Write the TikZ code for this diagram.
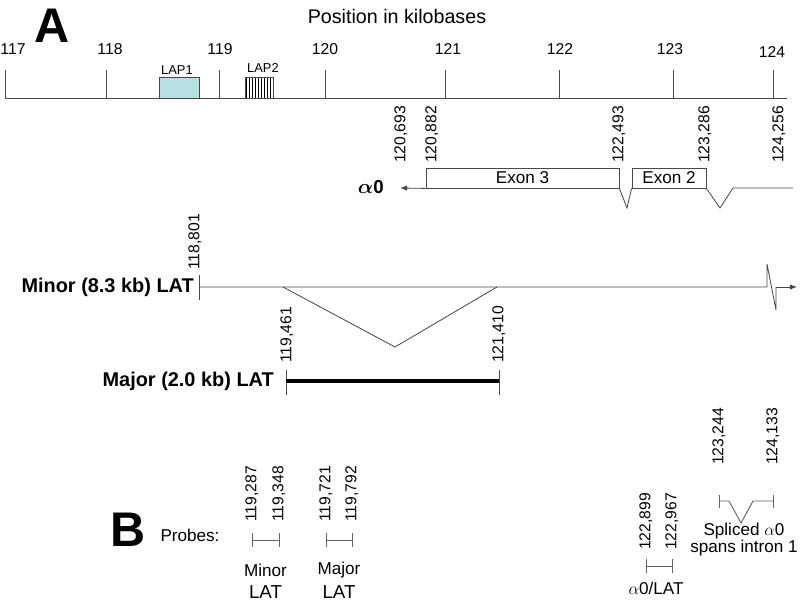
\documentclass[tikz,border=0pt]{standalone}
\usepackage{fontspec}
\setmainfont{Liberation Sans}
\usetikzlibrary{arrows.meta}

\definecolor{lapcyan}{RGB}{182,224,226}
\definecolor{linegray}{RGB}{72,72,72}

\newcommand{\numfont}{\fontsize{13.4}{14}\selectfont}
\newcommand{\txtfont}{\fontsize{14.6}{15}\selectfont}
\newcommand{\namefont}{\fontsize{17}{18}\selectfont\bfseries}
\newcommand{\panelfont}{\fontsize{41.5}{42}\selectfont\bfseries}

\begin{document}
\begin{tikzpicture}[
            >={Latex[length=6pt,width=4.5pt]},
            x=0.03cm, y=-0.03cm,
            genome/.style={draw=linegray, line width=0.7pt},
            probe/.style={draw=linegray!85, line width=0.8pt},
            kblabel/.style={font=\numfont, inner sep=0pt},
            poslabel/.style={font=\numfont, rotate=90, anchor=west, inner sep=0pt},
            exonbox/.style={genome, font=\txtfont, inner sep=0pt, minimum height=20*0.03cm},
            genename/.style={font=\namefont, inner sep=0pt, anchor=east},
            panel/.style={font=\panelfont, inner sep=0pt}
        ]
        \useasboundingbox (0,0) rectangle (800,613);

        \node[panel] (panelA) at (52,26) {A};
        \node[font=\fontsize{16.8}{17}\selectfont, inner sep=0pt] (title) at (397,16) {Position in kilobases};

        %Ruler

        \draw[genome] (5,98) -- (787,98);
        \foreach \tx/\lx/\ly/\kb in {5/13/49/117, 106/110/49/118, 219/220/49/119, 325/325/49/120,
                                     445/448/49/121, 559/560/49/122, 673/670/49/123, 773/772/52/124} {
            \draw[genome] (\tx,70) -- (\tx,98);
            \node[kblabel] (kb\kb) at (\lx,\ly) {\kb};
        }

        %% LAP1 and LAP2

        \draw[genome, fill=lapcyan] (159,77) rectangle (199,98);
        \node[font=\fontsize{11}{12}\selectfont, inner sep=0pt] (lap1) at (177,70) {LAP1};
        \foreach \hx in {246.5,249.5,...,272} {
            \draw[line width=1.1pt] (\hx,77) -- (\hx,98);
        }
        \draw[genome] (245,77) rectangle (273,98);
        \node[font=\fontsize{11}{12}\selectfont, inner sep=0pt] (lap2) at (263,68) {LAP2};

        %% alpha0 transcript

        \node[exonbox, minimum width=193*0.03cm] (exon3) at (522.5,178) {Exon 3};
        \node[exonbox, minimum width=74*0.03cm] (exon2) at (669,178) {Exon 2};
        \coordinate (a0tip) at (400,188);
        \coordinate (a0end) at (793,188);
        \draw[genome,->] (exon3.south west) -- (a0tip);
        \draw[genome] (exon3.south east) -- (627,208) -- (exon2.south west);
        \draw[genome] (exon2.south east) -- (720,208) -- (733,188) -- (a0end);
        \node[font=\fontsize{16}{17}\selectfont\bfseries\boldmath, inner sep=0pt, anchor=east] (alpha0) at (384,187) {$\alpha$0};

        \foreach \lx/\pos in {401/{120,693}, 432/{120,882}, 619/{122,493}, 705/{123,286}, 779/{124,256}} {
            \node[poslabel] (pos\lx) at (\lx,163) {\pos};
        }

        %% Minor (8.3 kb) LAT

        \coordinate (minorstart) at (199,287);
        \coordinate (minorbreak) at (767,287);
        \draw[genome] (199,275) -- (199,300);
        \draw[genome] (minorstart) -- (minorbreak) -- (767,264) -- (776,310) -- (776,287);
        \draw[genome,->] (776,287) -- (797,287);
        \draw[genome] (283,287) -- (395,347) -- (497,287);
        \node[genename] (minorlat) at (194,287) {Minor (8.3 kb) LAT};
        \node[poslabel] (pos199) at (195,270) {118,801};

        %% Major (2.0 kb) LAT

        \coordinate (majorstart) at (286,381);
        \coordinate (majorend) at (499,381);
        \draw[genome] (286,370) -- (286,395);
        \draw[genome] (499,370) -- (499,395);
        \draw[line width=3.8pt] (majorstart) -- (majorend);
        \node[genename] (majorlat) at (274,381) {Major (2.0 kb) LAT};
        \node[poslabel] (pos287) at (287,363) {119,461};
        \node[poslabel] (pos499) at (499,363) {121,410};

        %% Probes

        \node[panel] (panelB) at (128,530) {B};
        \node[font=\txtfont, inner sep=0pt] (probes) at (190,535) {Probes:};

        \foreach \pa/\pb/\name/\la/\lb in {252/279/Minor/{119,287}/{119,348}, 326/352/Major/{119,721}/{119,792}} {
            \draw[probe] (\pa,533) -- (\pa,547);
            \draw[probe] (\pb,533) -- (\pb,547);
            \draw[probe] (\pa,540) -- (\pb,540);
            \node[poslabel] (pos\pa) at (\pa,522) {\la};
            \node[poslabel] (pos\pb) at (\pb,522) {\lb};
            \node[font=\txtfont, inner sep=0pt] (name\pa) at ({(\pa+\pb)/2},570) {\name};
            \node[font=\fontsize{16}{17}\selectfont, inner sep=0pt] (lat\pa) at ({(\pa+\pb)/2},592) {LAT};
        }

        %% alpha0/LAT probe

        \draw[probe] (646,559) -- (646,573);
        \draw[probe] (672,559) -- (672,573);
        \draw[probe] (646,566) -- (672,566);
        \node[poslabel] (pos646) at (646,550) {122,899};
        \node[poslabel] (pos672) at (672,550) {122,967};
        \node[font=\txtfont, inner sep=0pt] (a0lat) at (656,588) {$\alpha$0/LAT};

        %% Spliced alpha0 probe

        \draw[probe] (719,495) -- (719,508);
        \draw[probe] (773,495) -- (773,508);
        \draw[probe] (719,501) -- (729,501) -- (741,523) -- (753,501) -- (773,501);
        \node[poslabel] (pos719) at (719,465) {123,244};
        \node[poslabel] (pos773) at (773,465) {124,133};
        \node[font=\fontsize{14.6}{12}\selectfont, align=center, inner sep=0pt] (spliced) at (744,540)
            {Spliced $\alpha$0\\spans intron 1};

    \end{tikzpicture}
\end{document}
